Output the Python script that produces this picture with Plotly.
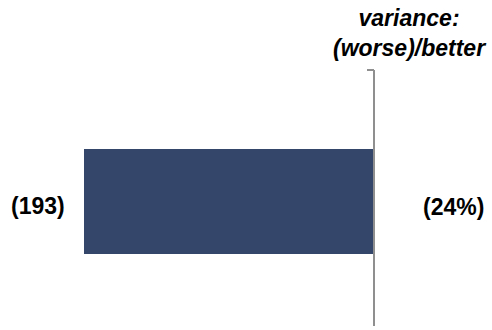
import plotly.graph_objects as go

categories = ["total"]
variance_values = [-193]
variance_labels = ["(193)"]
pct_labels = ["(24%)"]
header_text = "variance:<br>(worse)/better"

W, H = 492, 330
# x: zero at pixel 374, -193 at pixel 84
px_per_unit = (374 - 84) / 193.0
x_min = -374 / px_per_unit
x_max = (W - 374) / px_per_unit
# y: bar centered at pixel 201.5 (from top), height 105px
s = 105.0
y_min = -(H - 201.5) / s
y_max = 201.5 / s

fig = go.Figure()
fig.add_trace(go.Bar(
    x=variance_values, y=[0], orientation="h", width=1.0,
    marker=dict(color="#34466a", line=dict(width=0)),
    hoverinfo="skip", showlegend=False,
))

font = dict(family="Arial, Liberation Sans, sans-serif", size=23, color="#000000")

# value label left of bar
fig.add_annotation(x=variance_values[0], y=0, xref="x", yref="y",
                   text="<b>" + variance_labels[0] + "</b>", showarrow=False,
                   xanchor="right", yanchor="middle", xshift=-17, yshift=-4, font=font)
# pct label on right
fig.add_annotation(x=453.5 / W, y=0, xref="paper", yref="y",
                   text="<b>" + pct_labels[0] + "</b>", showarrow=False,
                   xanchor="center", yanchor="middle", yshift=-5, font=font)
# header
fig.add_annotation(x=409 / W, y=1.0, xref="paper", yref="paper",
                   text="<b><i>" + header_text + "</i></b>", showarrow=False,
                   xanchor="center", yanchor="top", yshift=-3, font=font, align="center")

# axis line with top tick
line_top = (H - 70 - (H - 201.5)) / s
line_bot = (H - 326 - (H - 201.5)) / s
tick_left = (367 - 374) / px_per_unit
fig.add_shape(type="line", xref="x", yref="y", x0=0, x1=0, y0=line_bot, y1=line_top,
              line=dict(color="#8f8f8f", width=2))
fig.add_shape(type="line", xref="x", yref="y", x0=tick_left, x1=0, y0=line_top, y1=line_top,
              line=dict(color="#8f8f8f", width=2))

fig.update_layout(
    width=W, height=H, margin=dict(l=0, r=0, t=0, b=0),
    paper_bgcolor="white", plot_bgcolor="white",
    xaxis=dict(range=[x_min, x_max], visible=False, fixedrange=True),
    yaxis=dict(range=[y_min, y_max], visible=False, fixedrange=True),
    bargap=0,
)
fig.write_html("out.html")
